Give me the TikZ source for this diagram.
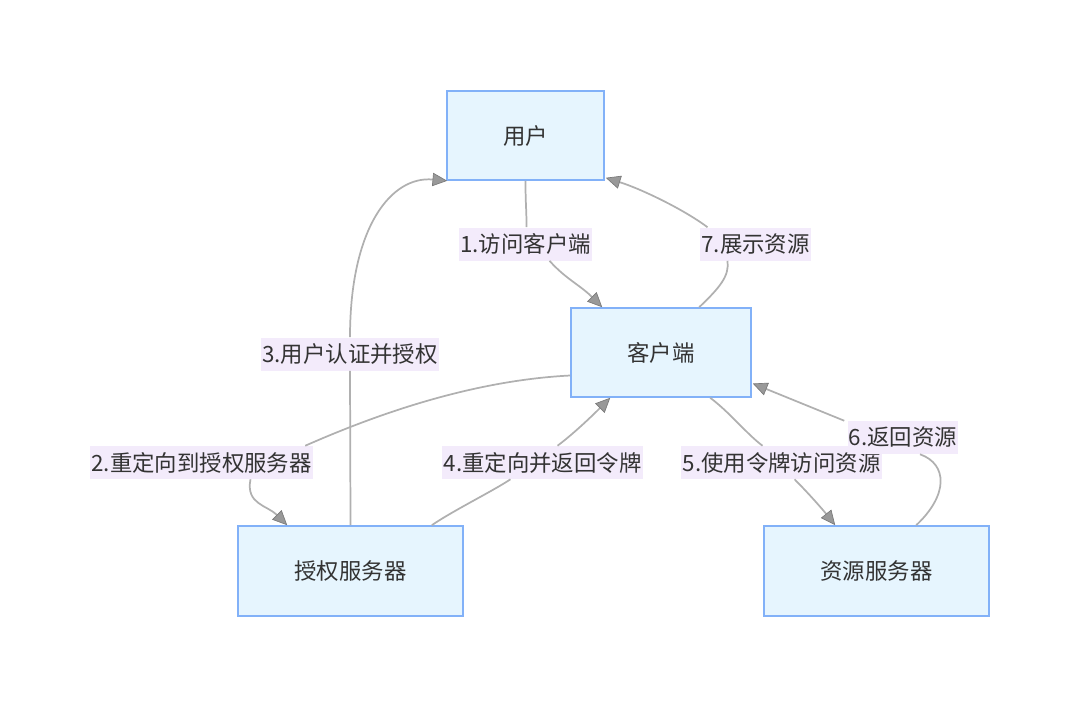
\documentclass[tikz,border=0pt]{standalone}
\usepackage{fontspec}
\newfontfamily\cjk{Noto Sans CJK SC}
\usetikzlibrary{arrows.meta,calc}
\definecolor{nodefill}{HTML}{E6F5FE}
\definecolor{nodeline}{HTML}{82B1F8}
\definecolor{lblfill}{HTML}{F3EBFB}
\definecolor{edgecol}{HTML}{B0B0B0}
\definecolor{tipcol}{HTML}{999999}
\definecolor{txt}{HTML}{333333}
\begin{document}
\begin{tikzpicture}[x=0.75pt,y=-0.75pt,
  box/.style={draw=nodeline,fill=nodefill,line width=1.2pt,text=txt,font=\cjk\fontsize{16.8}{19}\selectfont,inner sep=0pt},
  lbl/.style={fill=lblfill,text=txt,font=\cjk\fontsize{16.8}{19}\selectfont,inner xsep=1pt,inner ysep=0pt,minimum height=24.75pt},
  edge/.style={draw=edgecol,line width=1.3pt},
  arr/.style={edge,-{Triangle[length=11pt,width=10pt,fill=tipcol,color=tipcol!80!black,line width=0.5pt]}}]
\useasboundingbox (0,0) rectangle (1080,707);
% nodes
\node[box,minimum width=117.75pt,minimum height=66.75pt] (yh) at (525.5,135.5) {用户};
\node[box,minimum width=135pt,minimum height=66.75pt] (kh) at (661,352.5) {客户端};
\node[box,minimum width=168.75pt,minimum height=67.5pt] (sq) at (350.5,571) {授权服务器};
\node[box,minimum width=168.75pt,minimum height=67.5pt] (zy) at (876.5,571) {资源服务器};
% labels
\node[lbl] (l1) at (525.5,244) {1.访问客户端};
\node[lbl] (l7) at (755.5,244) {7.展示资源};
\node[lbl] (l3) at (350,354) {3.用户认证并授权};
\node[lbl] (l2) at (201.5,462.5) {2.重定向到授权服务器};
\node[lbl] (l4) at (542.5,462.5) {4.重定向并返回令牌};
\node[lbl] (l5) at (781.5,462.5) {5.使用令牌访问资源};
\node[lbl] (l6) at (903,437.5) {6.返回资源};
% edge 1
\draw[edge] (yh.south) .. controls ($(yh.south)+(0,25)$) and ($(l1.north)+(1,-20)$) .. ($(l1.north)+(1,0)$);
\draw[arr] ($(l1.south)+(24,0)$) .. controls ($(l1.south)+(40,18)$) and ($(kh.north west)+(10,-22)$) .. ($(kh.north west)+(32,0)$);
% edge 7
\draw[edge] ($(kh.north west)+(129,0)$) .. controls ($(kh.north west)+(150,-20)$) and ($(l7.south)+(-26,15)$) .. ($(l7.south)+(-28,0)$);
\draw[arr] ($(l7.north)+(-48,0)$) .. controls ($(l7.north)+(-72,-18)$) and ($(yh.south east)+(36,8)$) .. ($(yh.south east)+(1,-3)$);
% edge 3
\draw[edge] (sq.north) -- (l3.south);
\draw[arr] (l3.north) .. controls ($(l3.north)+(0,-110)$) and ($(yh.south west)+(-55,-5)$) .. ($(yh.south west)+(1,0)$);
% edge 2
\draw[edge] ($(kh.west)+(0,23)$) .. controls ($(kh.west)+(-100,28)$) and ($(l2.north east)+(60,-30)$) .. ($(l2.north east)+(-8,0)$);
\draw[arr] ($(l2.south)+(49,0)$) .. controls ($(l2.south)+(44,25)$) and ($(sq.north west)+(30,-20)$) .. ($(sq.north west)+(50,0)$);
% edge 4
\draw[edge] ($(sq.north east)+(-32,0)$) .. controls ($(sq.north east)+(-10,-15)$) and ($(l4.south)+(-50,12)$) .. ($(l4.south)+(-32,0)$);
\draw[arr] ($(l4.north)+(15,0)$) .. controls ($(l4.north)+(35,-15)$) and ($(kh.south west)+(30,10)$) .. ($(kh.south west)+(40,0)$);
% edge 5
\draw[edge] ($(kh.south west)+(140,0)$) .. controls ($(kh.south west)+(160,15)$) and ($(l5.north)+(-35,-12)$) .. ($(l5.north)+(-19,0)$);
\draw[arr] ($(l5.south)+(13,0)$) .. controls ($(l5.south)+(28,15)$) and ($(zy.north west)+(60,-15)$) .. ($(zy.north west)+(72,0)$);
% edge 6
\draw[edge] ($(zy.north west)+(153,0)$) .. controls ($(zy.north west)+(185,-30)$) and ($(l6.south)+(45,10)$) .. ($(l6.south)+(17,0)$);
\draw[arr] ($(l6.north west)+(-3,0)$) -- ($(kh.east)+(1,31)$);
\end{tikzpicture}
\end{document}
